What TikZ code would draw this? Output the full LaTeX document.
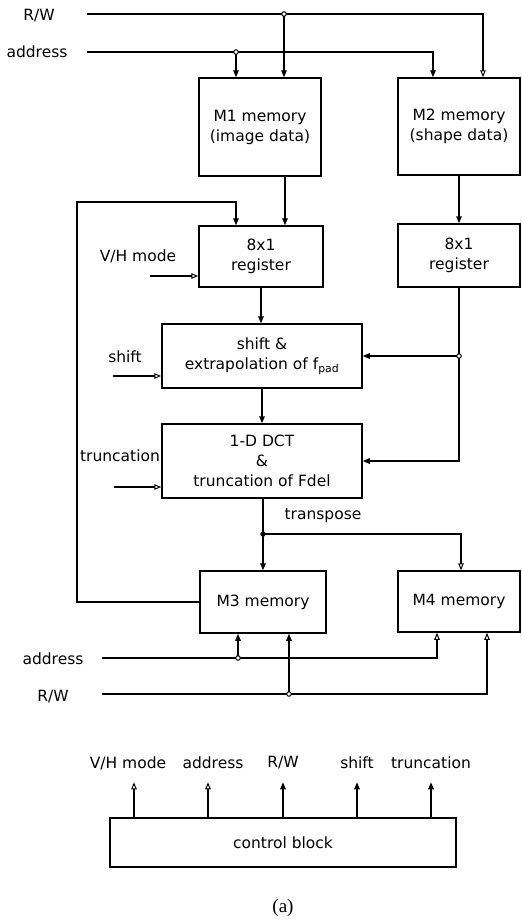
\documentclass[tikz,border=0pt]{standalone}
\usepackage{fontspec}
\setmainfont{DejaVu Sans}
\newfontfamily\capfont{Liberation Serif}
\usetikzlibrary{arrows.meta,calc}
\begin{document}
\begin{tikzpicture}[x=1pt,y=-1pt,
  line width=1.4pt,
  every node/.style={font=\fontsize{15.5}{20}\selectfont},
  blk/.style={draw,line width=1.5pt,align=center,inner sep=0pt},
  lbl/.style={inner sep=0pt},
  arr/.style={-{Triangle[length=7pt,width=5.5pt]}},
  oarr/.style={-{Triangle[open,length=7pt,width=5.5pt,line width=1pt]}},
  odot/.style={circle,draw,fill=white,line width=1pt,inner sep=0pt,minimum size=4.5pt},
  fdot/.style={circle,fill=black,inner sep=0pt,minimum size=5.5pt}]
\useasboundingbox (0,0) rectangle (522,919);

% blocks
\node[blk,minimum width=122pt,minimum height=98pt] (M1) at (260,127) {M1 memory\\(image data)};
\node[blk,minimum width=122pt,minimum height=97pt] (M2) at (459,126.5) {M2 memory\\(shape data)};
\node[blk,minimum width=124pt,minimum height=61pt] (R1) at (261,256.5) {8x1\\register};
\node[blk,minimum width=122pt,minimum height=63pt] (R2) at (459,255.5) {8x1\\register};
\node[blk,minimum width=200pt,minimum height=64pt] (SH) at (262,356) {shift \&\\extrapolation of f\textsubscript{pad}};
\node[blk,minimum width=200pt,minimum height=74pt] (DCT) at (262,461) {1-D DCT\\\&\\truncation of Fdel};
\node[blk,minimum width=126pt,minimum height=62pt] (M3) at (263,602) {M3 memory};
\node[blk,minimum width=122pt,minimum height=61pt] (M4) at (459,601.5) {M4 memory};
\node[blk,minimum width=346pt,minimum height=49pt] (CB) at (283,842.5) {control block};

% labels
\node[lbl] (lrwT) at (39,16) {R/W};
\node[lbl] (ladT) at (37,52) {address};
\node[lbl] (lvh) at (138,256) {V/H mode};
\node[lbl] (lsh) at (125,357) {shift};
\node[lbl] (ltr) at (120,456) {truncation};
\node[lbl] (ltp) at (323,516) {transpose};
\node[lbl] (ladB) at (53,659) {address};
\node[lbl] (lrwB) at (53,697) {R/W};
\node[lbl,font=\capfont\fontsize{19}{21}\selectfont] (cap) at (283,908) {(a)};

% top R/W and address buses
\coordinate (rwTs) at (87,14);
\coordinate (rwTj) at (284,14);
\coordinate (rwTc) at (483,14);
\draw[oarr] (rwTs) -- (rwTc) -- (rwTc |- M2.north);
\draw[arr] (rwTj) -- (rwTj |- M1.north);
\coordinate (adTs) at (87,52);
\coordinate (adTj) at (236,52);
\coordinate (adTc) at (433,52);
\draw[arr] (adTs) -- (adTc) -- (adTc |- M2.north);
\draw[arr] (adTj) -- (adTj |- M1.north);
\node[odot] at (rwTj) {};
\node[odot] at (adTj) {};

% memories to registers
\draw[arr] ([xshift=25pt]M1.south) -- ([xshift=25pt]M1.south |- R1.north);
\draw[arr] (M2.south) -- (M2.south |- R2.north);

% feedback from M3
\coordinate (fb) at (77,202);
\draw[arr] (M3.west) -| (fb) -| ([xshift=-25pt]R1.north);

% V/H mode
\coordinate (vh) at (150,276);
\draw[oarr] (vh) -- (vh -| R1.west);

% register 1 to shift block
\draw[arr] (R1.south) -- (R1.south |- SH.north);

% shift input
\coordinate (shin) at (113,376);
\draw[oarr] (shin) -- (shin -| SH.west);

% register 2 to shift and DCT
\coordinate (r2j) at (R2.south |- SH.east);
\draw[arr] (R2.south) |- (DCT.east);
\draw[arr] (r2j) -- (SH.east);
\node[odot] at (r2j) {};

% shift to DCT
\draw[arr] (SH.south) -- (DCT.north);

% truncation input
\coordinate (trin) at (114,487);
\draw[oarr] (trin) -- (trin -| DCT.west);

% DCT outputs
\coordinate (tj) at (263,534);
\draw (DCT.south -| tj) -- (tj);
\draw[arr] (tj) -- (M3.north);
\draw[oarr] (tj) -| ([xshift=2pt]M4.north);
\node[fdot] at (tj) {};

% bottom address and R/W buses
\coordinate (adBs) at (102,658);
\coordinate (adBj) at (238,658);
\draw[oarr] (adBs) -| ([xshift=-22pt]M4.south);
\draw[arr] (adBj) -- ([xshift=-25pt]M3.south);
\node[odot] at (adBj) {};
\coordinate (rwBs) at (102,694);
\coordinate (rwBj) at (289,694);
\draw[oarr] (rwBs) -| ([xshift=28pt]M4.south);
\draw[arr] (rwBj) -- ([xshift=26pt]M3.south);
\node[odot] at (rwBj) {};

% control block outputs
\coordinate (c1) at ($(CB.north)+(-149,-35)$);
\coordinate (c2) at ($(CB.north)+(-75,-35)$);
\coordinate (c3) at ($(CB.north)+(0,-35)$);
\coordinate (c4) at ($(CB.north)+(74,-35)$);
\coordinate (c5) at ($(CB.north)+(148,-35)$);
\draw[oarr] (c1 |- CB.north) -- (c1);
\draw[oarr] (c2 |- CB.north) -- (c2);
\draw[arr] (c3 |- CB.north) -- (c3);
\draw[arr] (c4 |- CB.north) -- (c4);
\draw[arr] (c5 |- CB.north) -- (c5);
\node[lbl] (o1) at (128,763) {V/H mode};
\node[lbl] (o2) at (213,763) {address};
\node[lbl] (o3) at (283,763) {R/W};
\node[lbl] (o4) at (357,763) {shift};
\node[lbl] (o5) at (431,763) {truncation};
\end{tikzpicture}
\end{document}
